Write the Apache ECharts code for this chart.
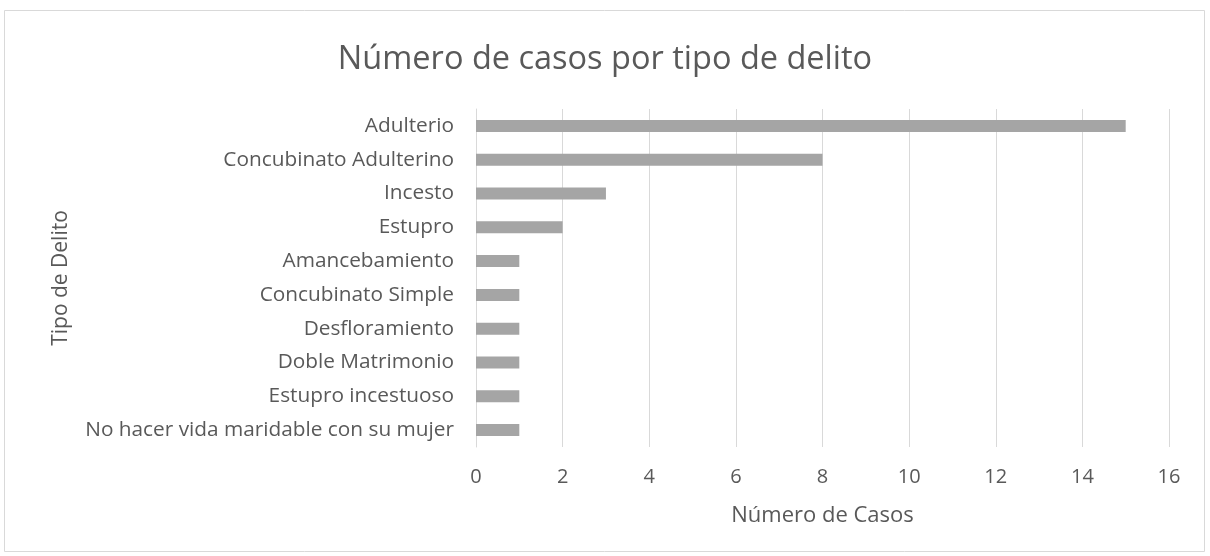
<!DOCTYPE html>
<html>
<head>
<meta charset="utf-8">
<script src="https://cdn.jsdelivr.net/npm/echarts@6/dist/echarts.min.js"></script>
<style>
  html, body { margin: 0; padding: 0; background: #fff; }
  #chart { width: 1210px; height: 556px; }
</style>
</head>
<body>
<div id="chart"></div>
<script>
'use strict';

// categories listed top to bottom as in the picture
var categories = ['Adulterio', 'Concubinato Adulterino', 'Incesto', 'Estupro', 'Amancebamiento',
  'Concubinato Simple', 'Desfloramiento', 'Doble Matrimonio', 'Estupro incestuoso',
  'No hacer vida maridable con su mujer'];
var casos = [15, 8, 3, 2, 1, 1, 1, 1, 1, 1];

var textColor = '#595959';
var fontFam = '"Open Sans", "Noto Sans", sans-serif';

var myChart = echarts.init(document.getElementById('chart'));
var option = {
  backgroundColor: '#ffffff',
  animation: false,
  graphic: [{
    type: 'rect',
    shape: { x: 4.5, y: 10.5, width: 1200, height: 541 },
    style: { fill: 'none', stroke: '#d9d9d9', lineWidth: 1 },
    silent: true
  }],
  title: {
    text: 'Número de casos por tipo de delito',
    left: 'center',
    top: 38,
    textStyle: { color: textColor, fontFamily: fontFam, fontSize: 32.5, fontWeight: 'normal' }
  },
  grid: { left: 476, right: 41, top: 109, bottom: 109, containLabel: false },
  xAxis: {
    type: 'value',
    min: 0,
    max: 16,
    interval: 2,
    name: 'Número de Casos',
    nameLocation: 'middle',
    nameGap: 58,
    nameTextStyle: { color: textColor, fontFamily: fontFam, fontSize: 22 },
    axisLine: { show: false },
    axisTick: { show: false },
    axisLabel: { color: textColor, fontFamily: fontFam, fontSize: 20, margin: 20 },
    splitLine: { show: true, lineStyle: { color: '#d9d9d9', width: 1 } }
  },
  yAxis: {
    type: 'category',
    inverse: true,
    data: categories,
    name: 'Tipo de Delito',
    nameLocation: 'middle',
    nameGap: 404,
    nameRotate: 90,
    nameTextStyle: { color: textColor, fontFamily: fontFam, fontSize: 21 },
    axisLine: { show: true, lineStyle: { color: '#d9d9d9' } },
    axisTick: { show: false },
    axisLabel: { color: textColor, fontFamily: fontFam, fontSize: 20.8, margin: 22 }
  },
  series: [{
    type: 'bar',
    data: casos,
    barWidth: 12,
    itemStyle: { color: '#a5a5a5' }
  }]
};
myChart.setOption(option);
</script>
</body>
</html>
